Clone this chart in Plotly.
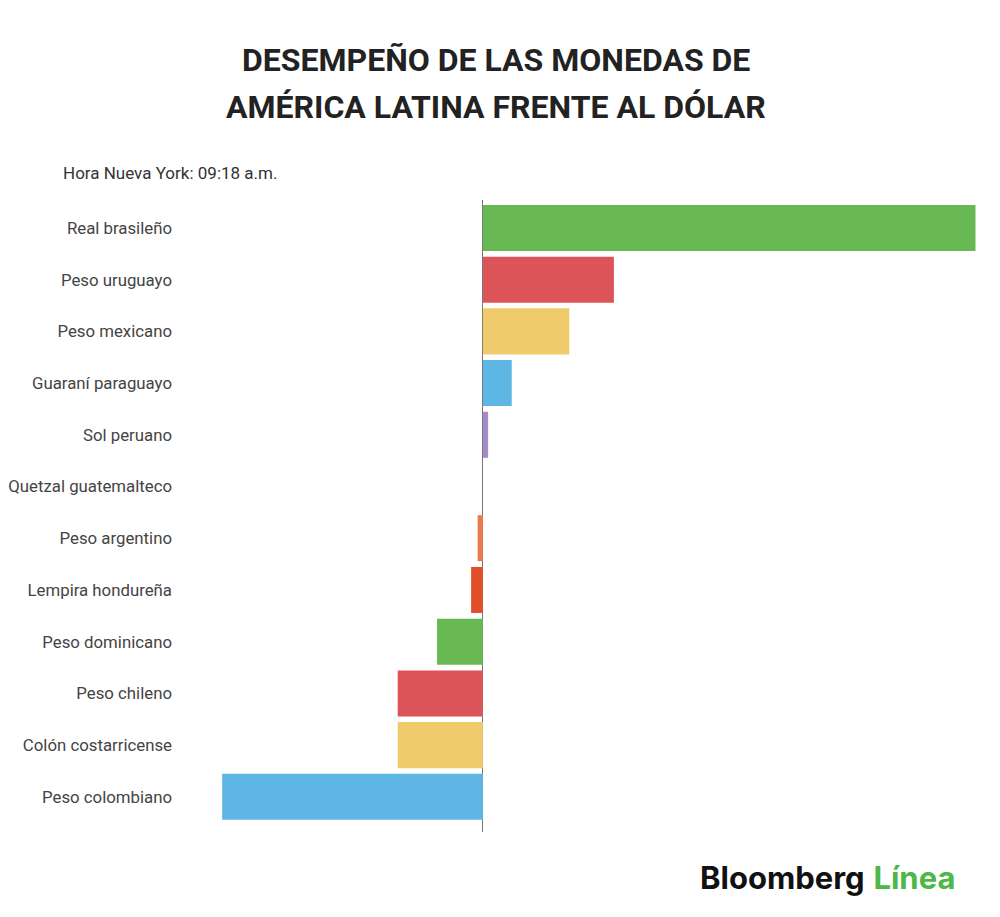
import plotly.graph_objects as go

# Latin American currencies vs USD (% change)
monedas = ['Real brasileño', 'Peso uruguayo', 'Peso mexicano', 'Guaraní paraguayo',
           'Sol peruano', 'Quetzal guatemalteco', 'Peso argentino', 'Lempira hondureña',
           'Peso dominicano', 'Peso chileno', 'Colón costarricense', 'Peso colombiano']
variacion = [1.88, 0.50, 0.33, 0.11, 0.02, 0.0, -0.02, -0.045, -0.175, -0.325, -0.325, -0.995]
colores = ['#68b853', '#dc5457', '#f0cb6b', '#5db6e4', '#a48cc6', '#cccccc',
           '#ec7a4c', '#e1502a', '#68b853', '#dc5457', '#f0cb6b', '#5db6e4']

fig = go.Figure(go.Bar(
    x=variacion,
    y=monedas,
    orientation='h',
    marker=dict(color=colores, line=dict(width=0)),
    hoverinfo='x+y',
))

# page body has an 8px margin, so the margins are trimmed by that much
fig.update_layout(
    width=1000,
    height=917,
    paper_bgcolor='white',
    plot_bgcolor='white',
    margin=dict(l=172, r=32, t=192, b=93),
    bargap=0.11,
    showlegend=False,
    font=dict(family='Roboto', color='#444444', size=16),
    xaxis=dict(range=[-1.156, 1.882], showgrid=False, showticklabels=False,
               zeroline=True, zerolinecolor='#777777', zerolinewidth=1.2,
               fixedrange=True, automargin=False),
    yaxis=dict(range=[11.68, -0.54], showgrid=False, zeroline=False, automargin=False,
               ticks='', ticklabelstandoff=7, tickfont=dict(size=16.8, color='#444444'),
               fixedrange=True),
)

# title centred on the page (paper x=0.5 is the middle of the plot area)
titulo = ['DESEMPEÑO DE LAS MONEDAS DE', 'AMÉRICA LATINA FRENTE AL DÓLAR']
for linea, dy in zip(titulo, [140, 93]):
    fig.add_annotation(
        text='<b>' + linea + '</b>',
        xref='paper', yref='paper', x=0.5, xanchor='center', xshift=-82,
        y=1.0, yanchor='middle', yshift=dy,
        showarrow=False,
        font=dict(family='Roboto', size=32, color='#222222'),
    )
fig.add_annotation(
    text='Hora Nueva York: 09:18 a.m.',
    xref='paper', yref='paper', x=0, xanchor='left', xshift=-119,
    y=1.0, yanchor='middle', yshift=27,
    showarrow=False,
    font=dict(family='Roboto', size=17, color='#333333'),
)
fig.add_annotation(
    text='<b>Bloomberg</b> <b><span style="color:#4db748">Línea</span></b>',
    xref='paper', yref='paper', x=1.0, xanchor='right', xshift=-19,
    y=0, yanchor='middle', yshift=-45,
    showarrow=False,
    font=dict(family='Inter', size=31, color='#111111'),
)

fig.write_html('out.html')
